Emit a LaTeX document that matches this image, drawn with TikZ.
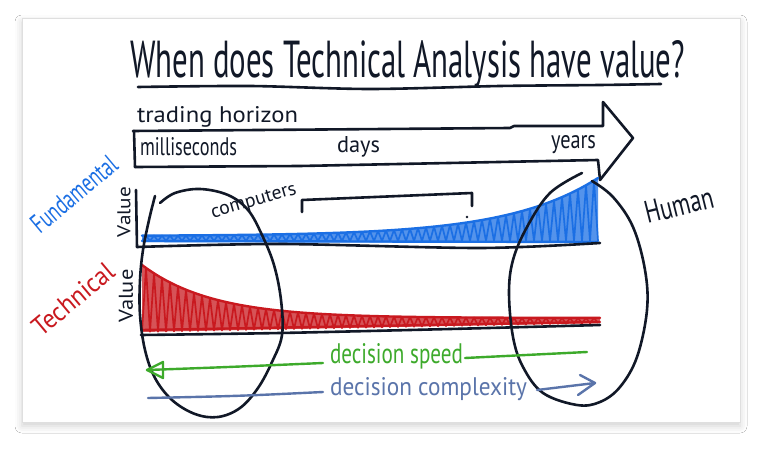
\documentclass[tikz,border=0pt]{standalone}
\usepackage{fontspec}
\setmainfont{PT Sans}
\usetikzlibrary{shadows.blur}
\definecolor{inkc}{HTML}{111827}
\definecolor{fundc}{HTML}{1B6FE4}
\definecolor{techc}{HTML}{C9191F}
\definecolor{speedc}{HTML}{3DAA2B}
\definecolor{cplxc}{HTML}{5A74AA}
\newcommand{\rsz}[3]{\resizebox{#1pt}{#2pt}{#3}}
\begin{document}
\begin{tikzpicture}[x=1pt,y=-1pt,
  inkline/.style={draw=inkc, line width=2.6pt, line cap=round, line join=round},
  txt/.style={inner sep=0pt, outer sep=0pt, text=inkc},
  colline/.style={line width=2.4pt, line cap=round, line join=round},
]
\useasboundingbox (0,0) rectangle (762,449);
\fill[white] (0,0) rectangle (762,449);
\path[draw=gray!25, line width=0.8pt, fill=white,
  blur shadow={shadow xshift=0pt, shadow yshift=-4pt, shadow blur radius=7pt, shadow opacity=18}]
  (22,18) rectangle (740,422);

% ---------- title ----------
\node[txt, anchor=base west] (title) at (130,78) {\rsz{555}{37}{When does Technical Analysis have value?}};
\draw[inkline] plot[smooth] coordinates {(138,87) (250,86) (370,89) (500,86) (600,85) (661,84)};

% ---------- trading horizon arrow ----------
\node[txt, anchor=base west] (horizon) at (137,123) {\rsz{161}{16}{trading horizon}};
\draw[inkline] (133,131) -- (510,128) -- (514,126) -- (603,126) -- (603,102) -- (633,138) -- (600,180);
\draw[inkline] (134,131) -- (135,167);
\draw[inkline] (135,167) -- (300,166) -- (598,160) -- (600,180);
\node[txt, anchor=base west] (ms) at (140,156) {\rsz{97}{18}{milliseconds}};
\node[txt, anchor=base west] (days) at (337,153) {\rsz{43}{16}{days}};
\node[txt, anchor=base west] (years) at (551,149) {\rsz{45}{13}{years}};

% ---------- fundamental (blue) ----------
\fill[fundc!75!white] plot[domain=142:598, samples=80] (\x, {241-(5+58*exp((\x-598)/90))}) -- (598,243) -- (142,242) -- cycle;
\draw[fundc, line width=1.7pt, line join=round] plot[domain=0:114, samples=115]
  ({142+4*\x}, {241 - mod(round(\x),2)*(5+58*exp((142+4*\x-598)/90))});
\draw[fundc, colline] plot[domain=142:598, samples=80] (\x, {241-(5+58*exp((\x-598)/90))});
\draw[fundc, colline] (142,241) -- (598,242);

% ---------- technical (red) ----------
\fill[techc!75!white] plot[domain=142:600, samples=80] (\x, {318-53*exp(-(\x-142)/70)}) -- (600,323) -- (142,332) -- cycle;
\draw[techc, line width=1.7pt, line join=round] plot[domain=0:114, samples=115]
  ({142+4*\x}, {(332-9*(4*\x)/458) - mod(round(\x),2)*((332-9*(4*\x)/458)-(318-53*exp(-(4*\x)/70)))});
\draw[techc, colline] plot[domain=142:600, samples=80] (\x, {318-53*exp(-(\x-142)/70)});
\draw[techc, colline] (142,330) -- (600,322);

% ---------- axes ----------
\draw[inkline] (136,190) -- (137,247);
\draw[inkline] plot[smooth] coordinates {(137,247) (280,244) (480,248) (600,243)};
\draw[inkline] plot[smooth] coordinates {(141,335) (280,333) (450,329) (600,325)};

% ---------- ellipses ----------
\draw[inkline] plot[smooth, tension=0.6] coordinates {(160,203) (175,193) (200,189) (228,195) (248,210) (262,235) (274,265) (281,300) (282,335) (272,362) (258,388) (240,408) (218,417) (195,414) (172,400) (155,378) (145,350) (140,315) (140,280) (143,250) (149,220) (155,196)};
\draw[inkline] plot[smooth, tension=0.6] coordinates {(582,173) (550,193) (527,227) (513,260) (509,293) (513,337) (523,367) (543,393) (577,405) (600,402) (620,387) (637,357) (647,310) (645,270) (633,227) (613,197) (592,181)};

% ---------- computers bracket ----------
\draw[inkline] (302,212) -- (302,200) -- (472,193) -- (472,206);
\fill[inkc] (467,217) circle (1.3);

% ---------- labels ----------
\node[txt, text=fundc, rotate=40] (fund) at (74,194) {\rsz{104}{19}{Fundamental}};
\node[txt, text=techc, rotate=40] (tech) at (73,299) {\rsz{98}{19}{Technical}};
\node[txt, rotate=90] (val1) at (124,212) {\rsz{50}{13}{Value}};
\node[txt, rotate=90] (val2) at (126,296) {\rsz{53}{14}{Value}};
\node[txt, rotate=16] (comp) at (254,202) {\rsz{88}{12}{computers}};
\node[txt, rotate=14] (human) at (679,205) {\rsz{70}{22}{Human}};

% ---------- decision speed ----------
\node[txt, text=speedc, anchor=base west] (dspeed) at (330,363) {\rsz{133}{20}{decision speed}};
\coordinate (gtip) at (147,370);
\coordinate (gl) at (323,363);
\coordinate (gr) at (465,358);
\coordinate (gend) at (587,352);
\draw[speedc, colline] (gtip) .. controls (230,367) .. (gl);
\draw[speedc, colline] (gr) -- (gend);
\draw[speedc, colline] (gtip) -- (163,362) -- (163,378) -- cycle;

% ---------- decision complexity ----------
\node[txt, text=cplxc, anchor=base west] (dcplx) at (330,395) {\rsz{197}{18}{decision complexity}};
\coordinate (cl0) at (148,398);
\coordinate (cl1) at (323,392);
\coordinate (cr0) at (537,390);
\coordinate (ctip) at (595,383);
\draw[cplxc, colline] (cl0) .. controls (240,396) .. (cl1);
\draw[cplxc, colline] (cr0) -- (ctip);
\draw[cplxc, colline] (580,375) -- (ctip) -- (578,395);
\end{tikzpicture}
\end{document}
